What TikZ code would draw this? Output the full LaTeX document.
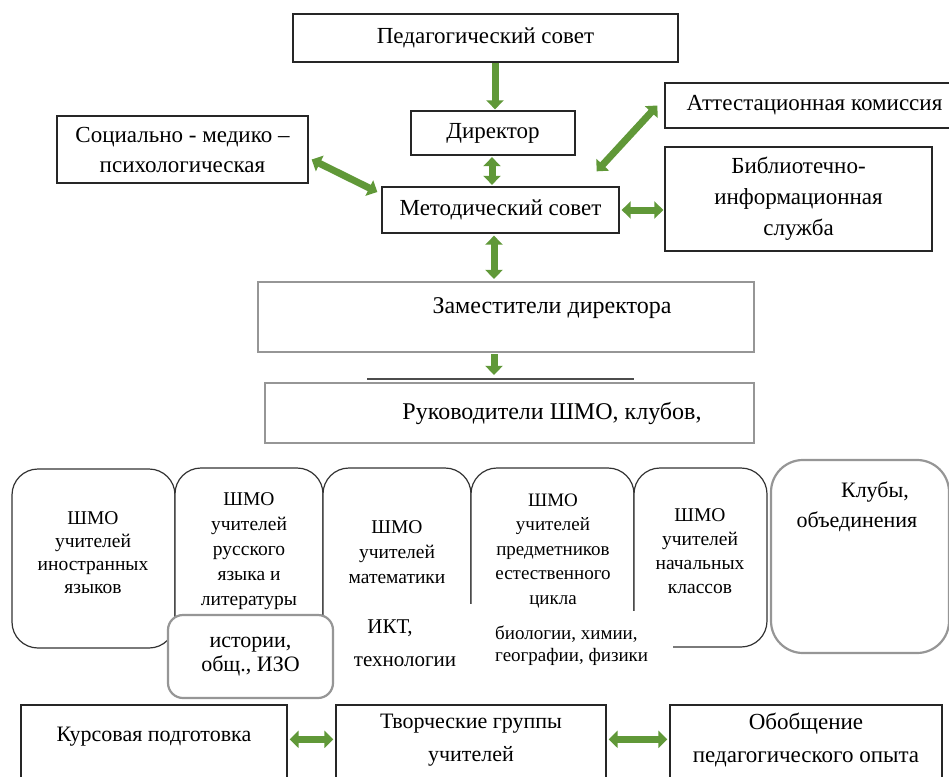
\documentclass[tikz,border=0pt]{standalone}
\usepackage{fontspec}
\setmainfont{Liberation Serif}
\usetikzlibrary{arrows.meta,calc}
\definecolor{arrgreen}{RGB}{96,152,56}
\definecolor{boxgray}{RGB}{150,150,150}
\newcommand\mkbox[7]{\node[#6, minimum width={(#4)-(#2)}, minimum height={(#5)-(#3)}] (#1) at ({((#2)+(#4))/2},{((#3)+(#5))/2}) {#7};}
\tikzset{
  blackbox/.style={draw=black!85, line width=1.3pt, fill=white, inner sep=0pt, align=center, font=\fontsize{23}{30}\selectfont},
  graybox/.style={draw=boxgray, line width=2.2pt, fill=white, inner sep=0pt, align=center, font=\fontsize{23}{24}\selectfont},
  shmobox/.style={draw=black!80, line width=1.2pt, rounded corners=26pt, fill=white, inner sep=0pt},
  shmotxt/.style={inner sep=0pt, align=center, font=\fontsize{19.5}{24}\selectfont},
  txt/.style={inner sep=0pt, align=center, font=\fontsize{22}{33}\selectfont},
  tipg/.tip={Triangle[width=17pt,length=9pt]},
  grarrow/.style={draw=arrgreen, line width=7pt, -tipg},
  grdouble/.style={draw=arrgreen, line width=7pt, tipg-tipg},
}
\begin{document}
\begin{tikzpicture}[x=1pt,y=-1pt]
\useasboundingbox (0,0) rectangle (949,776);
\clip (0,0) rectangle (949,776);

% upper boxes
\mkbox{ped}{293}{14}{678}{62}{blackbox}{Педагогический совет}
\mkbox{dir}{411}{111}{575}{155}{blackbox}{Директор}
\mkbox{met}{382}{187}{619}{233}{blackbox}{Методический совет}
\mkbox{soc}{57}{116}{308}{183}{blackbox}{Социально - медико –\\психологическая}
\mkbox{att}{665}{83}{950}{128}{blackbox}{\hspace*{14pt}Аттестационная комиссия}
\mkbox{bib}{665}{147}{932}{251}{blackbox, font=\fontsize{23}{31}\selectfont}{Библиотечно-\\информационная\\служба}

% deputies and heads
\mkbox{zam}{258}{282}{754}{352}{graybox}{}
\node[txt, font=\fontsize{24}{28}\selectfont] (zamt) at (552,308) {Заместители директора};
\draw[line width=1.5pt, black!70] (367,379) -- (634,379);
\mkbox{ruk}{265}{383}{754}{443}{graybox}{}
\node[txt, font=\fontsize{24}{28}\selectfont] (rukt) at (552,413) {Руководители ШМО, клубов,};

% SHMO boxes
\mkbox{s1}{12}{469}{175}{648}{shmobox}{}
\mkbox{s2}{175}{468}{323}{648}{shmobox}{}
\mkbox{s3}{323}{468}{471}{648}{shmobox}{}
\mkbox{s4}{471}{468}{634}{648}{shmobox}{}
\mkbox{s5}{634}{468}{767}{647}{shmobox}{}
\mkbox{klub}{771}{460}{949}{653}{graybox, rounded corners=32pt}{}
\node[txt, font=\fontsize{22}{30}\selectfont] (klubt) at (857,507) {\hspace*{36pt}Клубы,\\объединения};

\fill[white] (325,604) rectangle (472,702);
\fill[white] (472,611) rectangle (673,702);

\node[shmotxt, font=\fontsize{19.5}{23}\selectfont] (t1) at (93,553) {ШМО\\учителей\\иностранных\\языков};
\node[shmotxt, font=\fontsize{19.5}{25}\selectfont] (t2) at (249,551) {ШМО\\учителей\\русского\\языка и\\литературы};
\node[shmotxt, font=\fontsize{19.5}{25}\selectfont] (t3) at (397,552) {ШМО\\учителей\\математики};
\node[shmotxt, font=\fontsize{19}{24.5}\selectfont] (t4) at (553,551) {ШМО\\учителей\\предметников\\естественного\\цикла};
\node[shmotxt, font=\fontsize{19.5}{24}\selectfont] (t5) at (700,551) {ШМО\\учителей\\начальных\\классов};

\node[txt, font=\fontsize{21}{33}\selectfont] (ikt) at (405,643) {ИКТ,\hspace*{30pt}\\технологии};
\node[txt, anchor=west, align=left, font=\fontsize{19}{22}\selectfont] (bio) at (495,646) {биологии, химии,\\географии, физики};

\mkbox{ist}{168}{615}{333}{698}{graybox, rounded corners=15pt, font=\fontsize{22}{24}\selectfont}{истории,\\общ., ИЗО}

% bottom boxes
\mkbox{kurs}{21}{705}{287}{800}{blackbox}{}
\mkbox{tvor}{336}{705}{606}{800}{blackbox}{}
\mkbox{obob}{670}{705}{942}{800}{blackbox}{}
\node[txt] (kurst) at (154,737) {Курсовая подготовка};
\node[txt] (tvort) at (471,740) {Творческие группы\\учителей};
\node[txt, font=\fontsize{23}{33}\selectfont] (obobt) at (806,740) {Обобщение\\педагогического опыта};

% arrows
\draw[grarrow] ([xshift=9.5pt]ped.south) -- ([xshift=2pt,yshift=1pt]dir.north);
\draw[grdouble] ([xshift=-1pt,yshift=-1.5pt]dir.south) -- ([xshift=-8.5pt,yshift=1.5pt]met.north);
\draw[grdouble] ([xshift=3pt,yshift=-10pt]soc.east) -- ([xshift=-4pt,yshift=18pt]met.west);
\draw[grdouble] ([xshift=-7pt]att.west) -- ([xshift=-23pt,yshift=15pt]met.north east);
\draw[grdouble] ([xshift=2pt]met.east) -- ($(met.east -| bib.west)+(-1,0)$);
\draw[grdouble] ([xshift=-6.5pt,yshift=-2pt]met.south) -- ([xshift=-12pt,yshift=2pt]zam.north);
\draw[grarrow] ([xshift=-12pt,yshift=-1pt]zam.south) -- ([xshift=-15.5pt,yshift=7pt]ruk.north);
\draw[grdouble] ($(kurs.north east)+(2,35)$) -- ($(tvor.north west)+(-2,35)$);
\draw[grdouble] ($(tvor.north east)+(2,35)$) -- ($(obob.north west)+(-2,35)$);
\end{tikzpicture}
\end{document}
